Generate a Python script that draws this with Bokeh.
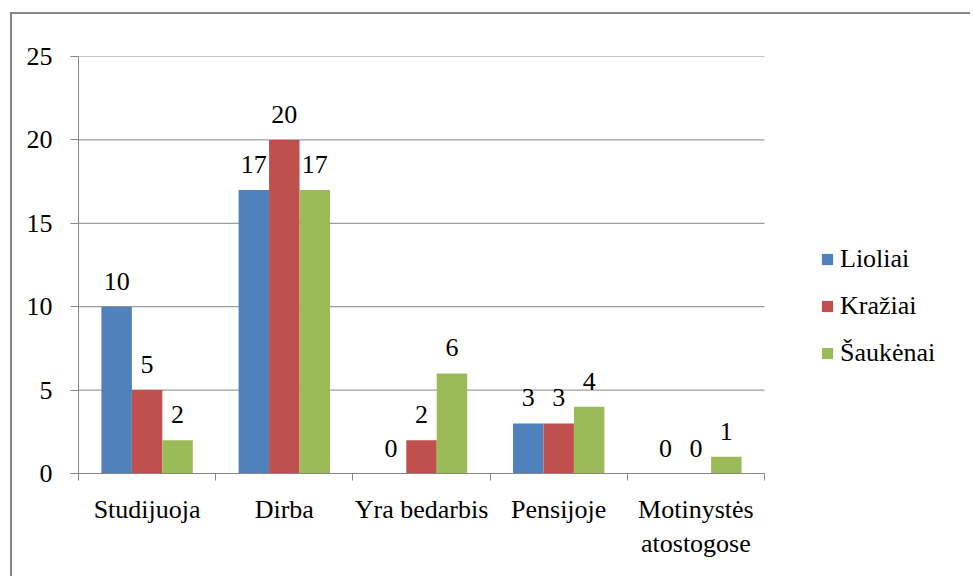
from bokeh.plotting import figure
from bokeh.models import (ColumnDataSource, LinearAxis, FixedTicker, Legend, LegendItem,
                          LabelSet, Range1d)
from bokeh.core.properties import value
from bokeh.transform import dodge
from bokeh.embed import file_html
from bokeh.resources import INLINE

categories = ["Studijuoja", "Dirba", "Yra bedarbis", "Pensijoje", "Motinystės\natostogose"]
series_names = ["Lioliai", "Kražiai", "Šaukėnai"]
lioliai = [10, 17, 0, 3, 0]
kraziai = [5, 20, 2, 3, 0]
saukenai = [2, 17, 6, 4, 1]
y_ticks = [0, 5, 10, 15, 20, 25]

colors = ["#4F81BD", "#C0504D", "#9BBB59"]
FONT = "Liberation Serif"
FS = "26px"
GRAY = "#868686"

W, H = 970, 576
LEFT, TOP, BOTTOM = 78, 56, 103
FRAME_W = W - LEFT
PLOT_W = 686
n = len(categories)
x_end = n * FRAME_W / PLOT_W

centers = [i + 0.5 for i in range(n)]
src = ColumnDataSource(dict(
    x=centers,
    s0=lioliai, s1=kraziai, s2=saukenai,
    t0=[str(v) for v in lioliai], t1=[str(v) for v in kraziai], t2=[str(v) for v in saukenai],
))

p = figure(width=W, height=H, x_range=Range1d(0, x_end), y_range=Range1d(0, 25),
           output_backend="svg", toolbar_location=None, x_axis_location=None,
           min_border_left=LEFT, min_border_right=0, min_border_top=TOP,
           min_border_bottom=BOTTOM)
g = "linear-gradient(%s, %s)" % (GRAY, GRAY)
p.styles = {"background-color": "white",
            "background-image": g + ", " + g,
            "background-size": "2px 100%, 100% 2px",
            "background-position": "10px 12px, 10px 12px",
            "background-repeat": "no-repeat"}
p.border_fill_alpha = 0
p.outline_line_color = None
p.xgrid.visible = False
p.ygrid.visible = False

p.segment(x0=[0] * len(y_ticks), x1=[n] * len(y_ticks), y0=y_ticks, y1=y_ticks,
          line_color=GRAY, line_width=1)

yax = p.yaxis[0]
yax.ticker = FixedTicker(ticks=y_ticks)
yax.axis_line_color = GRAY
yax.major_tick_line_color = GRAY
yax.major_tick_out = 8
yax.major_tick_in = 0
yax.minor_tick_line_color = None
yax.major_label_text_font = FONT
yax.major_label_text_font_size = FS
yax.major_label_text_color = "black"
yax.major_label_standoff = 18

ax1 = LinearAxis(ticker=FixedTicker(ticks=list(range(n + 1))),
                 major_label_overrides={i: "" for i in range(n + 1)},
                 axis_line_color=GRAY, major_tick_line_color=GRAY, major_tick_out=7,
                 major_tick_in=0, minor_tick_line_color=None, major_label_standoff=0,
                 major_label_text_font_size="1px", bounds=(0, n))
ax2 = LinearAxis(ticker=FixedTicker(ticks=centers),
                 major_label_overrides={c: lab for c, lab in zip(centers, categories)},
                 axis_line_color=None, major_tick_line_color=None, minor_tick_line_color=None,
                 major_label_standoff=8, major_label_text_font=FONT,
                 major_label_text_font_size=FS, major_label_text_color="black")
p.add_layout(ax1, "below")
p.add_layout(ax2, "below")

w = 0.222
items = []
for k, off in enumerate([-w, 0, w]):
    r = p.vbar(x=dodge("x", off), top="s%d" % k, width=w, source=src,
               fill_color=colors[k], line_color=None)
    items.append(LegendItem(label=series_names[k], renderers=[r]))
    lbl = LabelSet(x=dodge("x", off), y="s%d" % k, text="t%d" % k, source=src,
                   text_align="center", text_baseline="alphabetic", y_offset=17,
                   text_font=value(FONT), text_font_size=value(FS), text_color="black")
    p.add_layout(lbl)

legend = Legend(items=items, location=(742, 105), padding=0, margin=0,
                glyph_width=14, glyph_height=14, label_height=14, spacing=17,
                label_standoff=6, label_text_font=FONT, label_text_font_size=FS,
                label_text_color="black", border_line_color=None,
                background_fill_alpha=0)
p.add_layout(legend, "center")

open("out.html", "w").write(file_html(p, INLINE))
